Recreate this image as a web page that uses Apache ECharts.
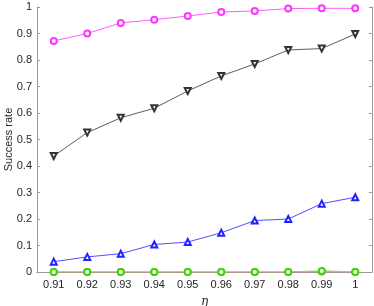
<!DOCTYPE html>
<html><head><meta charset="utf-8">
<script src="https://cdn.jsdelivr.net/npm/echarts@6/dist/echarts.min.js"></script>
<style>html,body{margin:0;padding:0;background:#fff}#c{width:374px;height:306px}</style>
</head><body><div id="c"></div>
<script>
const categories = ['0.91','0.92','0.93','0.94','0.95','0.96','0.97','0.98','0.99','1'];
const magenta = [0.872,0.900,0.940,0.952,0.966,0.981,0.985,0.994,0.995,0.995];
const black = [0.438,0.526,0.582,0.618,0.683,0.740,0.785,0.838,0.843,0.898];
const blue = [0.039,0.057,0.069,0.104,0.113,0.148,0.194,0.200,0.258,0.282];
const red = [0,0,0,0,0,0,0,0,0.002,0];
const green = [0,0,0,0,0,0,0,0,0.004,0];

const axisCol = '#9a9a9a';
const labelCol = '#262626';
const font = 'Liberation Sans, Arial, sans-serif';

function mk(data, color, symbol, rot, lw) {
  return {
    type: 'line', data: data, symbol: symbol, symbolSize: 6, symbolRotate: rot,
    lineStyle: {color: color, width: lw || 0.8},
    itemStyle: {color: color, borderWidth: 0.9},
    animation: false
  };
}

const chart = echarts.init(document.getElementById('c'));
chart.setOption({
  animation: false,
  grid: {left: 37, right: 2, top: 7, bottom: 34, containLabel: false, outerBoundsMode: 'none'},
  xAxis: [{
    type: 'category', data: categories, boundaryGap: true,
    name: 'η', nameLocation: 'middle', nameGap: 24, nameMoveOverlap: false,
    nameTextStyle: {fontFamily: 'DejaVu Serif, serif', fontStyle: 'italic', fontSize: 12, color: labelCol},
    axisLine: {lineStyle: {color: axisCol, width: 1}},
    axisTick: {inside: true, alignWithLabel: true, length: 3, lineStyle: {color: axisCol}},
    axisLabel: {color: labelCol, fontSize: 11, fontFamily: font, margin: 7, interval: 0}
  }, {
    type: 'category', data: categories, boundaryGap: true, position: 'top',
    axisLine: {lineStyle: {color: axisCol, width: 1}},
    axisTick: {inside: true, alignWithLabel: true, length: 3, lineStyle: {color: axisCol}},
    axisLabel: {show: false}
  }],
  yAxis: [{
    type: 'value', min: 0, max: 1, interval: 0.1,
    name: 'Success rate', nameLocation: 'middle', nameGap: 23, nameMoveOverlap: false,
    nameTextStyle: {fontFamily: font, fontSize: 11, color: labelCol},
    axisLine: {show: true, lineStyle: {color: axisCol, width: 1}},
    axisTick: {show: true, inside: true, length: 3, lineStyle: {color: axisCol}},
    axisLabel: {color: labelCol, fontSize: 11, fontFamily: font, margin: 5},
    splitLine: {show: false}
  }, {
    type: 'value', min: 0, max: 1, interval: 0.1, position: 'right',
    axisLine: {show: true, lineStyle: {color: axisCol, width: 1}},
    axisTick: {show: true, inside: true, length: 3, lineStyle: {color: axisCol}},
    axisLabel: {show: false},
    splitLine: {show: false}
  }],
  series: [
    mk(magenta, '#ff33ff', 'emptyCircle', 0),
    mk(black, '#333333', 'emptyTriangle', 180),
    mk(blue, '#2222ff', 'emptyTriangle', 0),
    mk(red, '#ff5555', 'emptyCircle', 0),
    Object.assign(mk(green, '#33dd00', 'emptyCircle', 0, 1.2), {lineStyle: {color: '#99d066', width: 1.2}})
  ]
});
</script></body></html>
